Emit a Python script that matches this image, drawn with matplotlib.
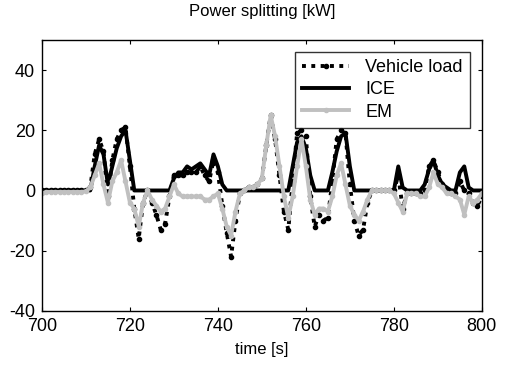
import numpy as np
import matplotlib
matplotlib.use("Agg")
import matplotlib.pyplot as plt

plt.rcParams["font.family"] = ["Liberation Sans", "DejaVu Sans"]
plt.rcParams["axes.unicode_minus"] = False

# time axis [s]
time = list(range(700, 801))

# power [kW], one value per second
vehicle_load = [
    0, 0, 0, 0, 0, 0, 0, 0, 0, 0,            # 700-709
    0, 1, 12, 17, 13, -2, 10, 17, 20, 21,    # 710-719
    8, -6, -16, -4, 0, -4, -8, -13, -11, -2,  # 720-729
    5, 5, 5, 6, 6, 6, 8, 5, 3, 10,           # 730-739
    6, -5, -14, -22, -10, -1, 0, 1, 1, 2,    # 740-749
    4, 15, 25, 17, 5, -7, -13, 3, 19, 20,    # 750-759
    18, -2, -12, -8, -10, -9, 3, 17, 20, 19,  # 760-769
    2, -10, -15, -13, -4, 0, 0, 0, 0, 0,     # 770-779
    0, 5, -6, -1, -1, -1, -1, 0, 8, 10,      # 780-789
    6, 2, 0, -1, -1, 3, 0, -1, -4, -5,       # 790-799
    -2,                                      # 800
]

ice = [
    0, 0, 0, 0, 0, 0, 0, 0, 0, 0,
    0, 0, 8, 15, 12, 2, 8, 14, 18, 20,
    10, 0, 0, 0, 0, 0, 0, 0, 0, 0,
    4, 6, 6, 8, 7, 8, 9, 7, 5, 12,
    8, 2, 0, 0, 0, 0, 0, 0, 0, 0,
    0, 0, 0, 0, 0, 0, 0, 8, 16, 18,
    14, 5, 0, 0, 0, 0, 6, 13, 18, 19,
    8, 0, 0, 0, 0, 0, 0, 0, 0, 0,
    0, 8, 1, 0, 0, 0, 0, 2, 7, 10,
    5, 2, 1, 0, 0, 6, 8, 1, 0, 0,
    0,
]

em = [
    -1, -0.5, -0.5, -0.5, -0.5, -0.5, -0.5, -0.5, -0.5, -0.5,
    -0.3, 1, 5, 9, 2, -4, 3, 6, 10, 3,
    -4, -6, -12, -4, 0, -3, -5, -7, -6, -2,
    2, -1, -2, -2, -2, -2, -2, -3, -3, -2,
    -1, -6, -12, -15, -7, -1, 0, 1, 1, 2,
    4, 15, 25, 18, 8, -2, -9, -2, 8, 17,
    8, -3, -8, -6, -6, -7, -2, 5, 9, 2,
    -5, -8, -10, -7, -3, 0, 0, 0, 0, 0,
    -1, -4, -7, -1, -1, -1, -2, -2, 1, 6,
    2, 1, -1, -1, -2, -3, -8, -2, -4, -3,
    -1,
]

fig = plt.figure(figsize=(5.11, 3.67), dpi=100)
ax = fig.add_axes([0.082, 0.153, 0.861, 0.738])

ax.plot(time, vehicle_load, color="black", linestyle=(0, (1, 1.4)), linewidth=2.8,
        marker=".", markersize=6, label="Vehicle load")
ax.plot(time, ice, color="black", linewidth=2.8, label="ICE")
ax.plot(time, em, color="#c0c0c0", linewidth=2.8, marker=".", markersize=6,
        label="EM")

ax.set_xlim(700, 800)
ax.set_ylim(-40, 50)
ax.set_xticks([700, 720, 740, 760, 780, 800])
ax.set_yticks([-40, -20, 0, 20, 40])
ax.tick_params(direction="in", length=3, width=0.8, top=True, right=True,
               labelsize=13, pad=5)
for s in ax.spines.values():
    s.set_linewidth(1.0)

ax.set_xlabel("time [s]", fontsize=12, labelpad=5)
ax.set_title("Power splitting [kW]", fontsize=12, pad=17)

leg = ax.legend(loc="upper right", fontsize=13, frameon=True, fancybox=False,
                edgecolor="black", borderaxespad=0.65, handlelength=2.6,
                handletextpad=0.9, labelspacing=0.3, borderpad=0.4)
leg.get_frame().set_linewidth(1.0)

plt.savefig("out.png", dpi=100)
plt.close()
